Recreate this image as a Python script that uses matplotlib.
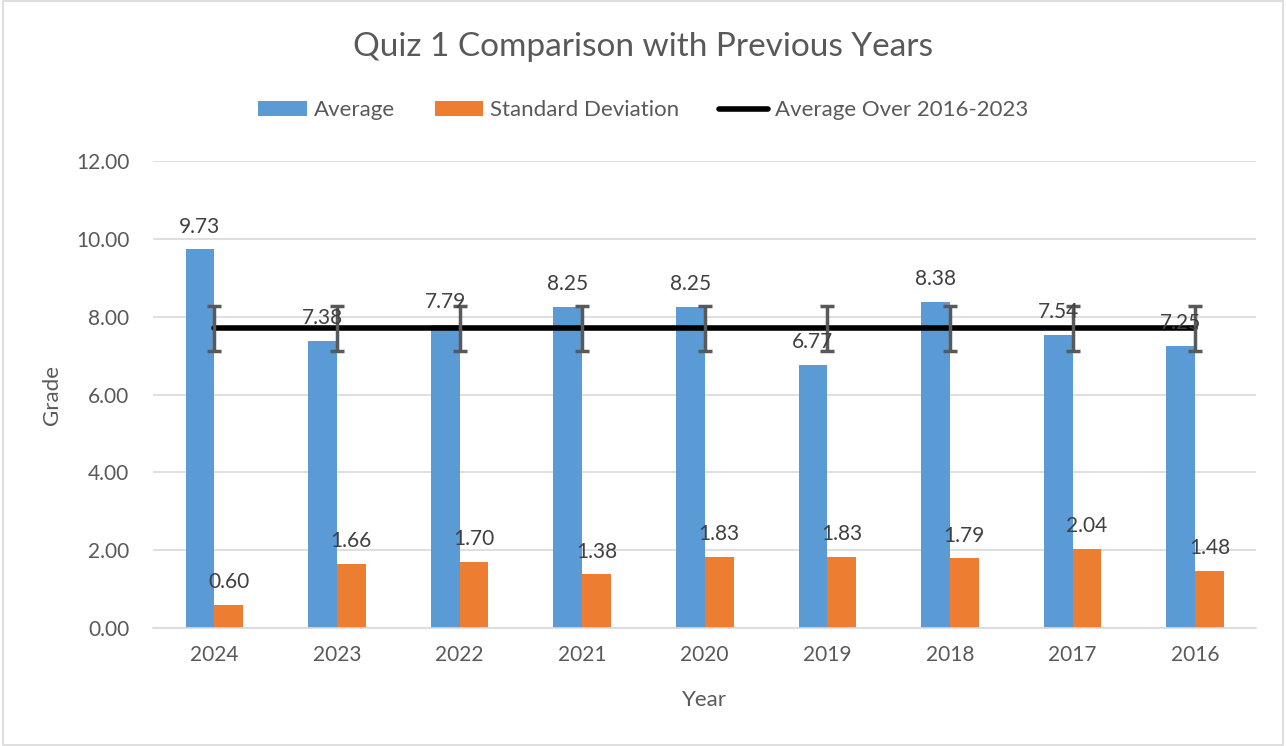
import matplotlib
matplotlib.use('Agg')
import matplotlib.pyplot as plt
import numpy as np
from matplotlib.patches import Rectangle

plt.rcParams['font.family'] = ['Lato', 'DejaVu Sans']

# data
years = ['2024', '2023', '2022', '2021', '2020', '2019', '2018', '2017', '2016']
average = [9.73, 7.38, 7.79, 8.25, 8.25, 6.77, 8.38, 7.54, 7.25]
std_dev = [0.60, 1.66, 1.70, 1.38, 1.83, 1.83, 1.79, 2.04, 1.48]
prev_avg = 7.70
prev_err = 0.57

blue = '#5b9bd5'
orange = '#ed7d31'
txt = '#595959'

fig = plt.figure(figsize=(12.86, 7.46), dpi=100)
fig.patches.append(Rectangle((0.002, 0.002), 0.996, 0.996, transform=fig.transFigure,
                             fill=False, edgecolor='#d9d9d9', linewidth=1.2))
ax = fig.add_axes([0.119, 0.158, 0.858, 0.626])

x = np.arange(len(years))
w = 0.235
ax.bar(x - w / 2, average, w, color=blue, label='Average', zorder=2)
ax.bar(x + w / 2, std_dev, w, color=orange, label='Standard Deviation', zorder=2)

ax.plot(x, [prev_avg] * len(x), color='black', linewidth=4, zorder=3,
        label='Average Over 2016-2023', solid_capstyle='round')
ax.errorbar(x, [prev_avg] * len(x), yerr=prev_err, fmt='none', ecolor='#595959',
            elinewidth=2.5, capsize=5, capthick=2.5, zorder=4)

for xi, v in zip(x, average):
    ax.text(xi - w / 2, v + 0.33, '%.2f' % v, ha='center', va='bottom', fontsize=15, color='#404040', zorder=5)
for xi, v in zip(x, std_dev):
    ax.text(xi + w / 2, v + 0.33, '%.2f' % v, ha='center', va='bottom', fontsize=15, color='#404040', zorder=5)

ax.set_xlim(-0.5, len(years) - 0.5)
ax.set_ylim(0, 12)
ax.set_yticks(np.arange(0, 12.1, 2))
ax.set_yticklabels(['%.2f' % t for t in np.arange(0, 12.1, 2)])
ax.set_xticks(x)
ax.set_xticklabels(years)
ax.tick_params(axis='both', length=0, labelsize=15, labelcolor=txt)
ax.tick_params(axis='y', pad=17)
ax.tick_params(axis='x', pad=12)
ax.grid(axis='y', color='#d9d9d9', linewidth=1.2, zorder=0)
ax.set_axisbelow(True)
for s in ['top', 'right', 'left']:
    ax.spines[s].set_visible(False)
ax.spines['bottom'].set_color('#d9d9d9')
ax.spines['bottom'].set_linewidth(1.2)

ax.set_xlabel('Year', fontsize=16, color=txt, labelpad=18)
ax.set_ylabel('Grade', fontsize=16, color=txt, labelpad=10)

fig.text(0.5, 0.937, 'Quiz 1 Comparison with Previous Years', ha='center', va='center',
         fontsize=24, color=txt)

handles, labels = ax.get_legend_handles_labels()
order = [1, 2, 0]
ax.legend([handles[i] for i in order], [labels[i] for i in order], loc='center',
          bbox_to_anchor=(0.5, 0.852), bbox_transform=fig.transFigure, ncol=3, frameon=False,
          fontsize=16, labelcolor=txt, handlelength=2.2, handletextpad=0.3, columnspacing=1.8)

fig.savefig('out.png', dpi=100)
